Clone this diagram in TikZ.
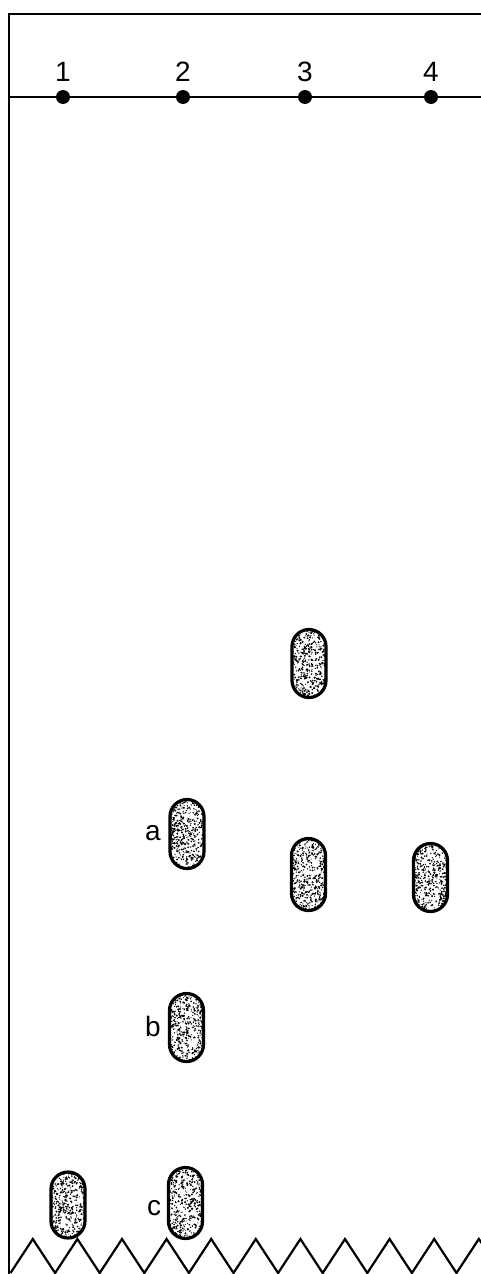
\documentclass[tikz,border=0pt]{standalone}
\usepackage{fontspec}
\setmainfont{Liberation Sans}
\begin{document}
\begin{tikzpicture}[x=1pt,y=-1pt,
  lbl/.style={inner sep=0pt, font=\fontsize{28}{32}\selectfont},
  origin/.style={circle, fill=black, minimum size=14pt, inner sep=0pt},
  spot/.style={draw=black, line width=3.2pt, fill=white, rounded corners=17pt,
    minimum width=34pt, inner sep=0pt, outer sep=0pt,
    path picture={
      \foreach \i in {1,...,520}{
        \fill[black] ([shift={({rand*18},{rand*38})}]path picture bounding box.center) circle ({0.5pt+0.6pt*rnd});
      }
    }}]
\pgfmathsetseed{42}
\useasboundingbox (0,0) rectangle (480,1274);
% frame
\draw[line width=2.2pt] (9,1274) -- (9,14) -- (482,14);
\draw[line width=1.6pt] (9,97) -- (482,97);
% origins
\node[origin] (o1) at (63,97) {};
\node[origin] (o2) at (183,97) {};
\node[origin] (o3) at (305,97) {};
\node[origin] (o4) at (431,97) {};
\node[lbl] (n1) at (63,72) {1};
\node[lbl] (n2) at (183,72) {2};
\node[lbl] (n3) at (305,72) {3};
\node[lbl] (n4) at (431,72) {4};
% spots
\node[spot, minimum height=66pt] (s1) at (68,1205) {};
\node[spot, minimum height=69pt] (s2a) at (187,834) {};
\node[spot, minimum height=68pt] (s2b) at (186.5,1027.5) {};
\node[spot, minimum height=71pt] (s2c) at (185.5,1203) {};
\node[spot, minimum height=68pt] (s3a) at (309,663.5) {};
\node[spot, minimum height=72pt] (s3b) at (308.5,874.5) {};
\node[spot, minimum height=68pt] (s4) at (430.5,877.5) {};
\node[lbl] (la) at (153,833) {a};
\node[lbl] (lb) at (153,1026) {b};
\node[lbl] (lc) at (154,1208) {c};
% solvent front zigzag
\draw[line width=2.2pt] (10.5,1273) \foreach \k in {0,...,9}{ -- ({32.8+44.6*\k},1239) -- ({55.1+44.6*\k},1273)} -- (478.8,1239) -- (482,1243.5);
\end{tikzpicture}
\end{document}
